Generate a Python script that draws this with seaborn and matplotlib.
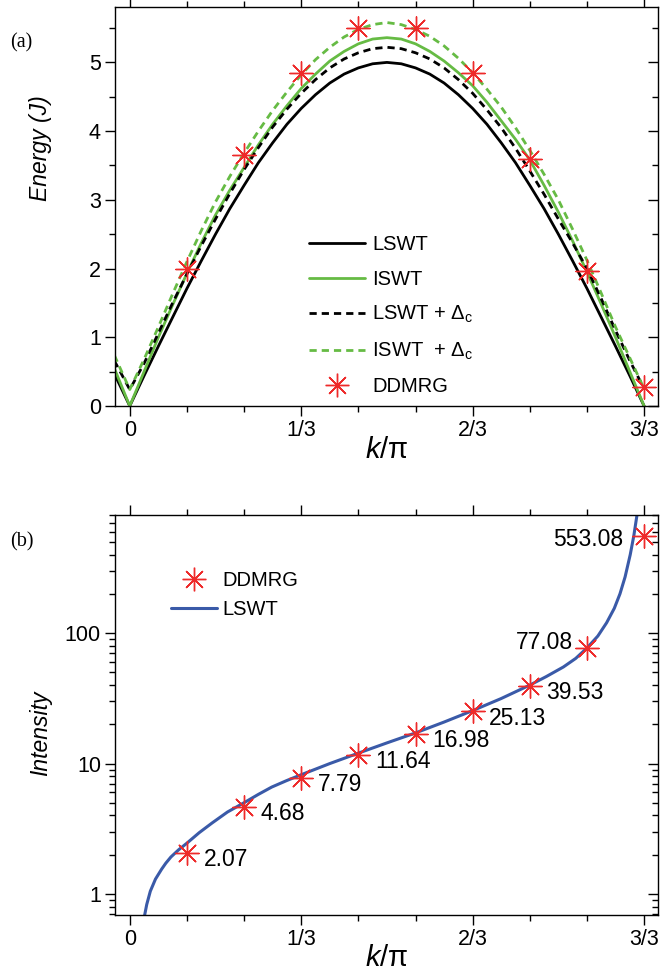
import matplotlib
matplotlib.use('Agg')

import numpy as np
import matplotlib.pyplot as plt
import seaborn as sns
from matplotlib.ticker import FixedLocator, MultipleLocator, LogLocator, NullFormatter, FuncFormatter
from matplotlib.lines import Line2D

# ---- data ----
# panel (a): dispersion, k in units of pi (steps of 1/36 plus the left edge)
k_curve = [-0.03, 0.0, 0.0278, 0.0556, 0.0833, 0.1111, 0.1389, 0.1667, 0.1944, 0.2222,
           0.25, 0.2778, 0.3056, 0.3333, 0.3611, 0.3889, 0.4167, 0.4444, 0.4722,
           0.5, 0.5278, 0.5556, 0.5833, 0.6111, 0.6389, 0.6667, 0.6944, 0.7222,
           0.75, 0.7778, 0.8056, 0.8333, 0.8611, 0.8889, 0.9167, 0.9444, 0.9722, 1.0]
lswt = [0.47, 0.0, 0.44, 0.87, 1.29, 1.71, 2.11, 2.50, 2.87, 3.21,
        3.54, 3.83, 4.10, 4.33, 4.53, 4.70, 4.83, 4.92, 4.98,
        5.00, 4.98, 4.92, 4.83, 4.70, 4.53, 4.33, 4.10, 3.83,
        3.54, 3.21, 2.87, 2.50, 2.11, 1.71, 1.29, 0.87, 0.44, 0.0]
iswt = [0.55, 0.0, 0.50, 1.00, 1.47, 1.93, 2.37, 2.78, 3.14, 3.47,
        3.80, 4.10, 4.37, 4.62, 4.83, 5.02, 5.16, 5.27, 5.34,
        5.36, 5.34, 5.27, 5.16, 5.02, 4.85, 4.66, 4.42, 4.15,
        3.88, 3.58, 3.21, 2.82, 2.40, 1.95, 1.48, 1.00, 0.50, 0.0]
lswt_dc = [0.66, 0.24, 0.62, 1.06, 1.50, 1.92, 2.33, 2.72, 3.09, 3.44,
           3.76, 4.06, 4.32, 4.55, 4.75, 4.92, 5.05, 5.14, 5.20,
           5.22, 5.20, 5.14, 5.05, 4.92, 4.75, 4.55, 4.31, 4.05,
           3.75, 3.42, 3.08, 2.72, 2.37, 2.00, 1.56, 1.10, 0.66, 0.25]
iswt_dc = [0.74, 0.24, 0.68, 1.15, 1.63, 2.10, 2.55, 2.97, 3.34, 3.68,
           4.00, 4.30, 4.57, 4.82, 5.04, 5.22, 5.37, 5.48, 5.55,
           5.58, 5.55, 5.48, 5.38, 5.24, 5.06, 4.85, 4.61, 4.35,
           4.05, 3.72, 3.37, 3.00, 2.57, 2.12, 1.64, 1.15, 0.70, 0.25]

k_dmrg = [0.1111, 0.2222, 0.3333, 0.4444, 0.5556, 0.6667, 0.7778, 0.8889, 1.0]
e_dmrg = [2.00, 3.65, 4.85, 5.50, 5.50, 4.84, 3.59, 1.96, 0.27]

# panel (b): intensity
i_dmrg = [2.07, 4.68, 7.79, 11.64, 16.98, 25.13, 39.53, 77.08, 553.08]
k_int = [0.029, 0.033, 0.040, 0.050, 0.062, 0.070, 0.080, 0.095, 0.111, 0.135,
         0.160, 0.190, 0.222, 0.250, 0.276, 0.305, 0.333, 0.389, 0.444, 0.5,
         0.556, 0.611, 0.667, 0.722, 0.778, 0.810, 0.843, 0.867, 0.889, 0.910,
         0.927, 0.942, 0.953, 0.963, 0.973, 0.980, 0.986]
i_lswt = [0.69, 0.83, 1.05, 1.30, 1.55, 1.72, 1.92, 2.18, 2.45, 2.95,
          3.50, 4.25, 5.0, 5.8, 6.6, 7.4, 8.2, 10.0, 12.0, 14.4,
          17.2, 20.8, 25.5, 31.5, 40.0, 46.5, 55.0, 64.0, 77.0, 95.0,
          120.0, 155.0, 200.0, 270.0, 400.0, 560.0, 800.0]

xtick_pos = [0, 1/3, 2/3, 1]
xtick_lab = ['0', '1/3', '2/3', '3/3']

# ---- style ----
sns.set_style('ticks')
plt.rcParams['font.family'] = ['Liberation Sans', 'DejaVu Sans']
plt.rcParams['mathtext.fontset'] = 'custom'
plt.rcParams['mathtext.rm'] = 'Liberation Sans'
plt.rcParams['mathtext.it'] = 'Liberation Sans:italic'
for key in ['text.color', 'axes.labelcolor', 'xtick.color', 'ytick.color']:
    plt.rcParams[key] = 'black'

BLACK = '#000000'
GREEN = '#66bb44'
RED = '#ee2a2a'
BLUE = '#3a5aa8'
STAR = (8, 2, 0)
DASH = (0, (2.6, 1.8))
TICK_FS = 15.5

fig = plt.figure(figsize=(6.6, 9.77), dpi=100)
ax1 = fig.add_axes([0.174, 0.5844, 0.823, 0.408])
ax2 = fig.add_axes([0.174, 0.0635, 0.823, 0.409])


def style_axis(ax):
    for s in ax.spines.values():
        s.set_linewidth(1.0)
        s.set_color('black')
    ax.xaxis.set_major_locator(FixedLocator(xtick_pos))
    ax.xaxis.set_minor_locator(MultipleLocator(1 / 9))
    ax.set_xticklabels(xtick_lab)
    ax.set_xlim(-0.029, 1.027)
    ax.tick_params(axis='both', which='major', direction='out', length=7, width=1,
                   labelsize=TICK_FS, pad=3)
    ax.tick_params(axis='both', which='minor', direction='out', length=4, width=1)
    ax.tick_params(axis='x', which='both', top=True)
    ax.tick_params(axis='y', which='both', right=True)


def right_ticks_inward(ax):
    for t in ax.yaxis.get_major_ticks() + ax.yaxis.get_minor_ticks():
        t.tick2line.set_marker(matplotlib.markers.TICKLEFT)


# ---- panel (a) ----
sns.lineplot(x=k_curve, y=lswt, ax=ax1, color=BLACK, lw=2.0, sort=False)
sns.lineplot(x=k_curve, y=iswt, ax=ax1, color=GREEN, lw=2.0, sort=False)
sns.lineplot(x=k_curve, y=lswt_dc, ax=ax1, color=BLACK, lw=2.0, sort=False, linestyle=DASH)
sns.lineplot(x=k_curve, y=iswt_dc, ax=ax1, color=GREEN, lw=2.0, sort=False, linestyle=DASH)
sns.scatterplot(x=k_dmrg, y=e_dmrg, ax=ax1, marker=STAR, s=280, color=RED,
                linewidth=1.0, zorder=5)

style_axis(ax1)
ax1.set_ylim(0, 5.8)
ax1.yaxis.set_major_locator(MultipleLocator(1))
ax1.yaxis.set_minor_locator(MultipleLocator(0.5))
right_ticks_inward(ax1)
ax1.set_ylabel('Energy (J)', fontsize=16.5, style='italic')
ax1.yaxis.set_label_coords(-0.116, 0.647)
ax1.set_xlabel(r'$k$/π', fontsize=21)
ax1.xaxis.set_label_coords(0.5, -0.075)

handles_a = [
    Line2D([], [], color=BLACK, lw=2.0),
    Line2D([], [], color=GREEN, lw=2.0),
    Line2D([], [], color=BLACK, lw=2.0, linestyle=DASH),
    Line2D([], [], color=GREEN, lw=2.0, linestyle=DASH),
    Line2D([], [], color=RED, lw=0, marker=STAR, markersize=17, markeredgewidth=1.0),
]
labels_a = ['LSWT', 'ISWT', 'LSWT + Δ$_{\\rm c}$', 'ISWT  + Δ$_{\\rm c}$', 'DDMRG']
ax1.legend(handles_a, labels_a, loc='upper left', bbox_to_anchor=(0.357, 0.428),
           frameon=False, fontsize=14.5, handlelength=2.8, handletextpad=0.35,
           labelspacing=0.76, borderaxespad=0, borderpad=0)

# ---- panel (b) ----
ax2.set_yscale('log')
sns.lineplot(x=k_int, y=i_lswt, ax=ax2, color=BLUE, lw=2.2, sort=False)
sns.scatterplot(x=k_dmrg, y=i_dmrg, ax=ax2, marker=STAR, s=280, color=RED,
                linewidth=1.0, zorder=5)

style_axis(ax2)
ax2.set_ylim(0.69, 800)
ax2.yaxis.set_major_locator(LogLocator(base=10, numticks=10))
ax2.yaxis.set_minor_locator(LogLocator(base=10, subs=np.arange(2, 10), numticks=10))
ax2.yaxis.set_major_formatter(FuncFormatter(lambda v, p: f'{v:g}'))
ax2.yaxis.set_minor_formatter(NullFormatter())
right_ticks_inward(ax2)
ax2.set_ylabel('Intensity', fontsize=16.5, style='italic')
ax2.yaxis.set_label_coords(-0.116, 0.455)
ax2.set_xlabel(r'$k$/π', fontsize=21)
ax2.xaxis.set_label_coords(0.5, -0.072)

# value labels next to each DDMRG point
for kk, vv in zip(k_dmrg, i_dmrg):
    if vv > 500:
        off, ha = (-15, -2), 'right'
    elif vv > 70:
        off, ha = (-10, 4), 'right'
    else:
        off, ha = (12, -5), 'left'
    ax2.annotate(f'{vv:.2f}', (kk, vv), xytext=off, textcoords='offset points',
                 ha=ha, va='center', fontsize=16.5)

handles_b = [
    Line2D([], [], color=RED, lw=0, marker=STAR, markersize=17, markeredgewidth=1.0),
    Line2D([], [], color=BLUE, lw=2.2),
]
ax2.legend(handles_b, ['DDMRG', 'LSWT'], loc='upper left', bbox_to_anchor=(0.103, 0.86),
           frameon=False, fontsize=14.5, handlelength=2.3, handletextpad=0.25,
           labelspacing=0.5, borderaxespad=0, borderpad=0)

# panel letters
fig.text(10 / 660, 1 - 43 / 977, '(a)', fontsize=14.5, family='Liberation Serif', va='center')
fig.text(10 / 660, 1 - 542 / 977, '(b)', fontsize=14.5, family='Liberation Serif', va='center')

fig.savefig('out.png', dpi=100)
